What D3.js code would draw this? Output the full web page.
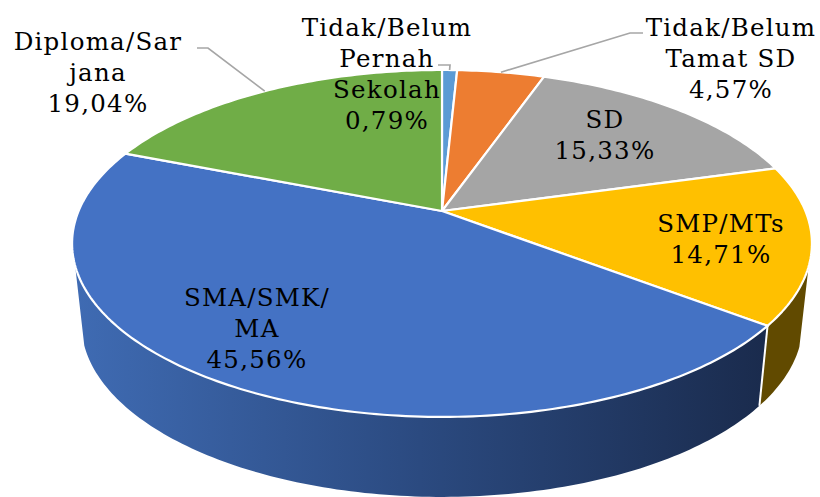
<!DOCTYPE html>
<html>
<head>
<meta charset="utf-8">
<script src="https://cdn.jsdelivr.net/npm/d3@7"></script>
<style>
  html, body { margin: 0; padding: 0; background: #fff; }
  svg { display: block; }
  .label { font-family: "DejaVu Serif", serif; font-size: 24.5px; letter-spacing: 1.25px; fill: #000; text-anchor: middle; }
  .leader { fill: none; stroke: #a6a6a6; stroke-width: 1.7; }
</style>
</head>
<body>
<div id="chart"></div>
<script>
const categories = ['Tidak/Belum Pernah Sekolah', 'Tidak/Belum Tamat SD', 'SD', 'SMP/MTs', 'SMA/SMK/MA', 'Diploma/Sarjana'];
const values = [0.79, 4.57, 15.33, 14.71, 45.56, 19.04];
const colors = ['#5b9bd5', '#ed7d31', '#a5a5a5', '#ffc000', '#4472c4', '#70ad47'];
const labelLines = [
  ['Tidak/Belum', 'Pernah', 'Sekolah'],
  ['Tidak/Belum', 'Tamat SD'],
  ['SD'],
  ['SMP/MTs'],
  ['SMA/SMK/', 'MA'],
  ['Diploma/Sar', 'jana']
];

const width = 820;
const height = 497;

// label block: centre x and first baseline
const labelPos = [[387, 36], [731, 36], [605, 128], [721, 232], [257, 306], [98, 50]];
// leader line elbows, slice end of the line comes from the pie
const leaders = { 0: [[450, 65], [438, 65]], 1: [[630, 33], [643, 33]], 5: [[208, 48], [197, 48]] };

// perspective view of the pie disc
const cx = 442, cy = 211, rx = 363.4, ry = 167.4, persp = 0.187;
const depth = 80, shrink = 0.975;
// where the side wall disappears behind the top face
const silhouetteRight = 1.89, silhouetteLeft = 4.40;

const project = (a, r = 1, bottom = false) => {
  const u = r * Math.sin(a), v = -r * Math.cos(a);
  const w = 1 - persp * v;
  const s = bottom ? shrink : 1;
  return [cx + s * rx * u / w, cy + ry * v / w + (bottom ? depth : 0)];
};

const rim = (a0, a1, bottom = false) => {
  const n = Math.max(2, Math.ceil(Math.abs(a1 - a0) * 60));
  return d3.range(n + 1).map(i => project(a0 + (a1 - a0) * i / n, 1, bottom));
};

const line = d3.line();
const pie = d3.pie().sort(null)(values);

const svg = d3.select('#chart').append('svg')
  .attr('width', width)
  .attr('height', height);

const defs = svg.append('defs');
const sideGrad = defs.append('linearGradient')
  .attr('id', 'sideBlue')
  .attr('gradientUnits', 'userSpaceOnUse')
  .attr('x1', 75).attr('x2', 765)
  .attr('y1', 0).attr('y2', 0);
sideGrad.append('stop').attr('offset', 0).attr('stop-color', '#3f6bb3');
sideGrad.append('stop').attr('offset', 0.5).attr('stop-color', '#2b4a80');
sideGrad.append('stop').attr('offset', 1).attr('stop-color', '#1a2b4d');

// Side walls, only yellow and blue face the viewer
const wall = (a0, a1) => line(rim(a0, a1).concat(rim(a1, a0, true))) + 'Z';
const yellow = pie[3], blue = pie[4];

svg.append('path')
  .attr('d', wall(silhouetteRight, yellow.endAngle))
  .attr('fill', '#614a00');

svg.append('path')
  .attr('d', wall(blue.startAngle, silhouetteLeft))
  .attr('fill', 'url(#sideBlue)');

// divider between the two walls
svg.append('path')
  .attr('d', line([project(blue.startAngle), project(blue.startAngle, 1, true)]))
  .attr('fill', 'none')
  .attr('stroke', '#fff')
  .attr('stroke-width', 2);

// Top face
svg.selectAll('.slice')
  .data(pie)
  .enter()
  .append('path')
  .attr('class', 'slice')
  .attr('d', d => line([[cx, cy]].concat(rim(d.startAngle, d.endAngle))) + 'Z')
  .attr('fill', (d, i) => colors[i])
  .attr('stroke', '#fff')
  .attr('stroke-width', 2.2)
  .attr('stroke-linejoin', 'round');

// Leader lines
Object.keys(leaders).forEach(i => {
  const mid = (pie[i].startAngle + pie[i].endAngle) / 2;
  svg.append('path')
    .attr('class', 'leader')
    .attr('d', line([project(mid)].concat(leaders[i])));
});

// Labels
const lineStep = 31;
const fmt = v => v.toFixed(2).replace('.', ',') + '%';

const labels = svg.selectAll('.label')
  .data(categories)
  .enter()
  .append('text')
  .attr('class', 'label')
  .attr('data-category', d => d);

labels.each(function(d, i) {
  const rows = labelLines[i].concat(fmt(values[i]));
  d3.select(this).selectAll('tspan')
    .data(rows)
    .enter()
    .append('tspan')
    .attr('x', labelPos[i][0])
    .attr('y', (r, j) => labelPos[i][1] + j * lineStep)
    .text(r => r);
});
</script>
</body>
</html>
